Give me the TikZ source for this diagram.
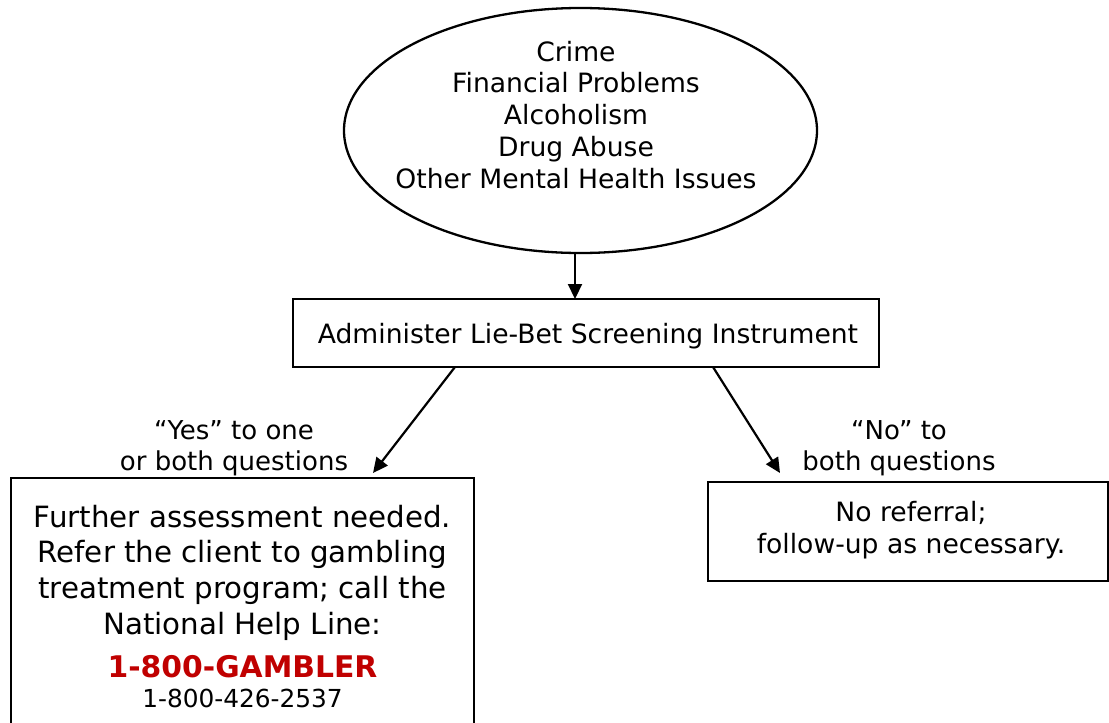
\documentclass[tikz,border=0pt]{standalone}
\usepackage{fontspec}
\setmainfont{DejaVu Sans}
\usetikzlibrary{shapes.geometric,arrows.meta,calc}
\definecolor{helpred}{RGB}{192,0,0}
\begin{document}
\begin{tikzpicture}[x=1pt,y=1pt,
  boxst/.style={draw, line width=2.3pt, rectangle, inner sep=0pt, outer sep=0pt},
  ellst/.style={draw, line width=2.3pt, ellipse, inner sep=0pt, outer sep=0pt},
  arr/.style={line width=2.2pt, -{Triangle[length=15pt,width=14pt]}},
  txt/.style={font=\fontsize{26.6}{31.7}\selectfont, align=center, inner sep=0pt},
  bigtxt/.style={font=\fontsize{29.3}{35.6}\selectfont, align=center, inner sep=0pt},
  smtxt/.style={font=\fontsize{26}{31}\selectfont, align=center, inner sep=0pt}]
\useasboundingbox (0,0) rectangle (1109,-723);

% top ellipse
\node[ellst, minimum width=473pt, minimum height=245pt] (ell) at (580.5,-130.5) {};
\node[txt, anchor=base] (elltxt) at (576,-188)
  {Crime\\Financial Problems\\Alcoholism\\Drug Abuse\\Other Mental Health Issues};

% screening box
\node[boxst, minimum width=586pt, minimum height=68pt] (screen) at (586,-333) {};
\node[txt, anchor=base] (screentxt) at (588,-343) {Administer Lie-Bet Screening Instrument};

% left result box (runs off the bottom edge)
\node[boxst, anchor=north west, minimum width=463pt, minimum height=262pt] (refer) at (11,-478) {};
\node[bigtxt, anchor=base] (refertxt) at (242.5,-707)
  {Further assessment needed.\\Refer the client to gambling\\treatment program; call the\\National Help Line:\\[7.4pt]%
   {\fontsize{29.8}{35.6}\selectfont\bfseries\color{helpred}1-800-GAMBLER}\\[-5.6pt]%
   {\fontsize{24.8}{30}\selectfont 1-800-426-2537}};

% right result box
\node[boxst, anchor=north west, minimum width=400pt, minimum height=99pt] (noref) at (708,-482) {};
\node[txt, anchor=base] (noreftxt) at (911,-553) {No referral;\\follow-up as necessary.};

% branch labels
\node[smtxt, anchor=base] (yeslbl) at (234,-470) {“Yes” to one\\or both questions};
\node[smtxt, anchor=base] (nolbl) at (899,-470) {“No” to\\both questions};

% connectors
\coordinate (down) at ($(ell.south)+(-5.5,0)$);
\draw[arr] (down) -- (down |- screen.north);
\coordinate (ys) at ($(screen.south west)+(162,0)$);
\coordinate (ye) at ($(refer.north west)+(362,5)$);
\draw[arr] (ys) -- (ye);
\coordinate (ns) at ($(screen.south west)+(420,0)$);
\coordinate (ne) at ($(noref.north west)+(72,9)$);
\draw[arr] (ns) -- (ne);
\end{tikzpicture}
\end{document}
